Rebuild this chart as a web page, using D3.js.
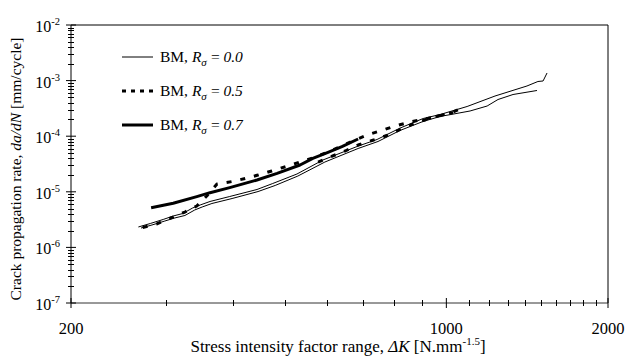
<!DOCTYPE html>
<html>
<head>
<meta charset="utf-8">
<script src="https://cdn.jsdelivr.net/npm/d3@7"></script>
<style>
  body { margin: 0; background: #fff; }
  svg { display: block; }
  text { font-family: "Liberation Serif", "Times New Roman", serif; fill: #000; }
</style>
</head>
<body>
<div id="chart"></div>
<script>
// R = 0.0, two specimens (thin lines)
var dK_r00a = [267, 281, 297, 310, 323, 337, 348, 363, 395, 444, 475, 527, 589, 682, 743, 820, 905, 973, 1093, 1232, 1413, 1481, 1514, 1540];
var rate_r00a = [2.33e-6, 2.69e-6, 3.18e-6, 3.67e-6, 4.07e-6, 5.12e-6, 5.79e-6, 6.70e-6, 8.23e-6, 1.10e-5, 1.41e-5, 2.09e-5, 3.73e-5, 6.53e-5, 8.73e-5, 1.40e-4, 2.08e-4, 2.45e-4, 3.42e-4, 5.28e-4, 8.0e-4, 9.64e-4, 9.84e-4, 1.37e-3];
var dK_r00b = [270, 283, 299, 312, 326, 340, 351, 366, 399, 446, 480, 529, 594, 685, 746, 820, 905, 973, 1107, 1191, 1248, 1331, 1475];
var rate_r00b = [2.23e-6, 2.53e-6, 2.98e-6, 3.38e-6, 3.75e-6, 4.71e-6, 5.33e-6, 6.16e-6, 7.57e-6, 1.01e-5, 1.30e-5, 1.92e-5, 3.43e-5, 6.01e-5, 8.03e-5, 1.27e-4, 1.84e-4, 2.26e-4, 2.84e-4, 3.49e-4, 4.57e-4, 5.62e-4, 6.64e-4];

// R = 0.5, two specimens (dashed)
var dK_r05a = [272, 289, 307, 326, 343, 358, 374, 399, 422, 446, 473, 503, 534, 567, 602, 639, 676, 718, 762, 809, 860, 913, 969, 1029, 1088];
var rate_r05a = [2.28e-6, 2.64e-6, 3.38e-6, 4.33e-6, 5.56e-6, 8.40e-6, 1.38e-5, 1.53e-5, 1.73e-5, 2.00e-5, 2.37e-5, 2.85e-5, 3.43e-5, 4.14e-5, 5.20e-5, 6.67e-5, 8.55e-5, 1.08e-4, 1.29e-4, 1.56e-4, 1.82e-4, 2.04e-4, 2.31e-4, 2.72e-4, 3.49e-4];
var dK_r05b = [577, 607, 648, 685, 727, 775, 820, 867, 917, 973, 1029];
var rate_r05b = [3.43e-5, 4.23e-5, 5.42e-5, 6.95e-5, 8.37e-5, 1.03e-4, 1.32e-4, 1.66e-4, 2.00e-4, 2.36e-4, 2.67e-4];

// R = 0.7 (thick line)
var dK_r07 = [282, 310, 343, 363, 395, 444, 484, 534, 564, 602, 639, 685];
var rate_r07 = [5.18e-6, 6.21e-6, 8.17e-6, 9.64e-6, 1.19e-5, 1.63e-5, 2.15e-5, 3.03e-5, 4.0e-5, 5.13e-5, 6.47e-5, 8.9e-5];

var yMajor = [1e-7, 1e-6, 1e-5, 1e-4, 1e-3, 1e-2];
var yExp = ["-7", "-6", "-5", "-4", "-3", "-2"];
var xMajor = [200, 1000, 2000];
var xMinor = [300, 400, 500, 600, 700, 800, 900, 1100, 1200, 1300, 1400, 1500, 1600, 1700, 1800, 1900];

var legendItems = ["0.0", "0.5", "0.7"];

var W = 633, H = 358;
var svg = d3.select("#chart").append("svg")
    .attr("width", W)
    .attr("height", H);

var x = d3.scaleLog().domain([200, 2000]).range([71, 608]);
var y = d3.scaleLog().domain([1e-7, 1e-2]).range([303, 25]);

// frame
svg.append("line").attr("x1", x(200)).attr("x2", x(2000)).attr("y1", y(1e-2)).attr("y2", y(1e-2))
    .attr("stroke", "#000").attr("stroke-width", 1);
svg.append("line").attr("x1", x(2000)).attr("x2", x(2000)).attr("y1", y(1e-2)).attr("y2", y(1e-7))
    .attr("stroke", "#000").attr("stroke-width", 1);
svg.append("line").attr("x1", x(200)).attr("x2", x(2000)).attr("y1", y(1e-7)).attr("y2", y(1e-7))
    .attr("stroke", "#333").attr("stroke-width", 1);
svg.append("line").attr("x1", x(200)).attr("x2", x(200)).attr("y1", y(1e-2)).attr("y2", y(1e-7))
    .attr("stroke", "#000").attr("stroke-width", 1);

// y ticks (crossing the axis)
var yMinor = [];
yMajor.slice(0, -1).forEach(function(m) {
    for (var k = 2; k <= 9; k++) yMinor.push(m * k);
});
var axisG = svg.append("g").attr("stroke", "#000").attr("stroke-width", 1);
axisG.selectAll(".ymin").data(yMinor).enter().append("line")
    .attr("x1", x(200) - 3).attr("x2", x(200) + 3)
    .attr("y1", function(d) { return Math.round(y(d)) + 0.5; })
    .attr("y2", function(d) { return Math.round(y(d)) + 0.5; });
axisG.selectAll(".ymaj").data(yMajor).enter().append("line")
    .attr("x1", x(200) - 5).attr("x2", x(200) + 5)
    .attr("y1", function(d) { return y(d); })
    .attr("y2", function(d) { return y(d); });

// x ticks
axisG.selectAll(".xmin").data(xMinor).enter().append("line")
    .attr("x1", function(d) { return Math.round(x(d)) + 0.5; })
    .attr("x2", function(d) { return Math.round(x(d)) + 0.5; })
    .attr("y1", y(1e-7) - 3).attr("y2", y(1e-7) + 3);
axisG.selectAll(".xmaj").data(xMajor).enter().append("line")
    .attr("x1", function(d) { return x(d); })
    .attr("x2", function(d) { return x(d); })
    .attr("y1", y(1e-7) - 5).attr("y2", y(1e-7) + 5);

// y tick labels
var yl = svg.selectAll(".ylab").data(yMajor).enter().append("text")
    .attr("x", 60)
    .attr("y", function(d) { return y(d) + 7; })
    .attr("text-anchor", "end")
    .style("font-size", "16px");
yl.append("tspan").text("10");
yl.append("tspan").attr("dy", -7).style("font-size", "10.5px")
    .text(function(d, i) { return yExp[i]; });

// x tick labels
svg.selectAll(".xlab").data(xMajor).enter().append("text")
    .attr("x", function(d) { return x(d); })
    .attr("y", 334)
    .attr("text-anchor", "middle")
    .style("font-size", "16.5px")
    .text(function(d) { return d; });

// axis titles
var xt = svg.append("text")
    .attr("x", 338).attr("y", 352)
    .attr("text-anchor", "middle")
    .style("font-size", "17px");
xt.append("tspan").text("Stress intensity factor range, ");
xt.append("tspan").style("font-style", "italic").text("\u0394K");
xt.append("tspan").text(" [N.mm");
xt.append("tspan").attr("dy", -7).style("font-size", "11px").text("-1.5");
xt.append("tspan").attr("dy", 7).text("]");

var yt = svg.append("text")
    .attr("transform", "translate(21,169) rotate(-90)")
    .attr("text-anchor", "middle")
    .style("font-size", "15.5px");
yt.append("tspan").text("Crack propagation rate, ");
yt.append("tspan").style("font-style", "italic").text("da/dN");
yt.append("tspan").text(" [mm/cycle]");

// curves
var line = d3.line()
    .x(function(d) { return x(d[0]); })
    .y(function(d) { return y(d[1]); });

function pairs(xs, ys) { return d3.zip(xs, ys); }

var series = [
    { pts: pairs(dK_r00a, rate_r00a), w: 1, dash: null },
    { pts: pairs(dK_r00b, rate_r00b), w: 1, dash: null },
    { pts: pairs(dK_r07, rate_r07), w: 3, dash: null },
    { pts: pairs(dK_r05a, rate_r05a), w: 3, dash: "5,9" },
    { pts: pairs(dK_r05b, rate_r05b), w: 3, dash: "5,9" }
];

svg.append("g").selectAll("path").data(series).enter().append("path")
    .attr("d", function(d) { return line(d.pts); })
    .attr("fill", "none")
    .attr("stroke", "#000")
    .attr("stroke-width", function(d) { return d.w; })
    .attr("stroke-dasharray", function(d) { return d.dash; })
    .attr("stroke-linejoin", "round");

// legend
var legStyle = [{ w: 1, dash: null }, { w: 3, dash: "4,5" }, { w: 3, dash: null }];
var leg = svg.append("g");
legendItems.forEach(function(v, i) {
    var ly = 57 + i * 34;
    leg.append("line")
        .attr("x1", 122).attr("x2", 153).attr("y1", ly).attr("y2", ly)
        .attr("stroke", "#000")
        .attr("stroke-width", legStyle[i].w)
        .attr("stroke-dasharray", legStyle[i].dash);
    var t = leg.append("text").attr("x", 160).attr("y", ly + 5).style("font-size", "15.5px");
    t.append("tspan").text("BM, ");
    t.append("tspan").style("font-style", "italic").text("R");
    t.append("tspan").style("font-style", "italic").style("font-size", "11px").attr("dy", 4).text("\u03c3");
    t.append("tspan").style("font-style", "italic").attr("dy", -4).text("\u2009=\u2009" + v);
});
</script>
</body>
</html>
